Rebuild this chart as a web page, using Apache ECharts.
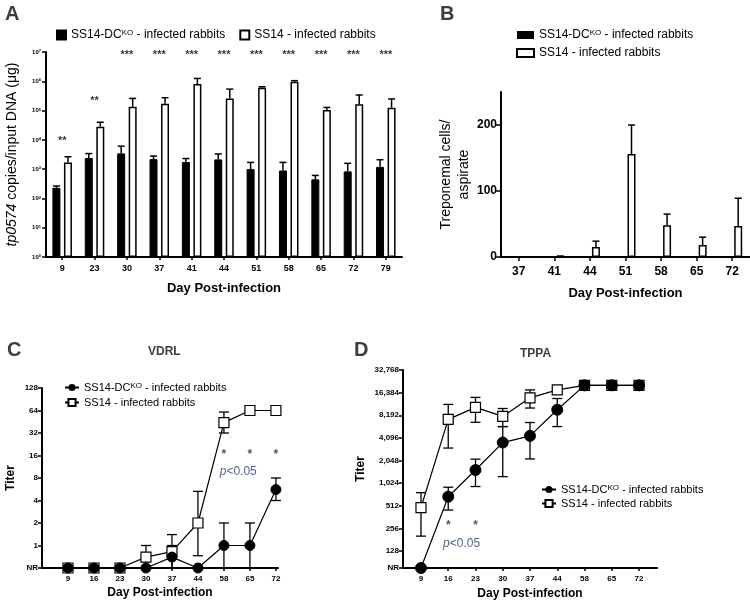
<!DOCTYPE html>
<html><head><meta charset="utf-8">
<script src="https://cdn.jsdelivr.net/npm/echarts@6/dist/echarts.min.js"></script>
<style>html,body{margin:0;padding:0;background:#fff}#c{width:750px;height:601px}</style>
</head><body><div id="c"></div>
<script>
// ---------- Panel A: tp0574 copies / input DNA ----------
const daysA = ['9','23','30','37','41','44','51','58','65','72','79'];
const koA    = [230, 2400, 3450, 2200, 1750, 2150, 1000, 900, 450, 840, 1200];
const koAErr = [265, 3400, 6100, 2800, 2300, 3300, 1700, 1700, 610, 1580, 2100];
const wtA    = [1700, 28000, 135000, 170000, 800000, 260000, 600000, 960000, 105000, 166000, 125000];
const wtAErr = [2650, 40000, 260000, 275000, 1250000, 540000, 650000, 1050000, 128000, 340000, 250000];
const sigA    = ['**','**','***','***','***','***','***','***','***','***','***'];
const sigALvl = [12000, 270000, 1e7, 1e7, 1e7, 1e7, 1e7, 1e7, 1e7, 1e7, 1e7];
const ticksA = [1, 10, 100, 1000, 1e4, 1e5, 1e6, 1e7];

// ---------- Panel B: treponemal cells / aspirate ----------
const daysB = ['37','41','44','51','58','65','72'];
const koB    = [0, 0, 0, 0, 0, 0, 0];
const wtB    = [0, 1, 15, 156, 48, 18, 47];
const wtBErr = [0, 1.5, 24, 200, 65, 30, 89];
const ticksB = [0, 100, 200];

// ---------- Panel C: VDRL titers (0 = NR) ----------
const daysC = ['9','16','23','30','37','44','58','65','72'];
const koC   = [0, 0, 0, 0, 0.7, 0, 1, 1, 5.6];
const koCLo = [0, 0, 0, 0, 0, 0, 0, 0, 4];
const koCHi = [0, 0, 0, 0, 1, 0, 2, 2, 8];
const wtC   = [0, 0, 0, 0.7, 0.83, 2, 44, 64, 64];
const wtCLo = [0, 0, 0, 0, 0, 0.73, 32, 64, 64];
const wtCHi = [0, 0, 0, 1, 1.4, 5.3, 61, 64, 64];
const sigC  = [['*', 6, 18], ['*', 7, 18], ['*', 8, 18]];
const ticksC = [0, 1, 2, 4, 8, 16, 32, 64, 128];

// ---------- Panel D: TPPA titers (0 = NR) ----------
const daysD = ['9','16','23','30','37','44','58','65','72'];
const koD   = [0, 676, 1530, 3550, 4360, 9700, 20480, 20480, 20480];
const koDLo = [0, 449, 923, 1250, 2150, 5790, 20480, 20480, 20480];
const koDHi = [0, 904, 2135, 5790, 6560, 13680, 20480, 20480, 20480];
const wtD   = [485, 7230, 10440, 7910, 13970, 17800, 20480, 20480, 20480];
const wtDLo = [202, 3000, 6600, 5790, 10220, 17800, 20480, 20480, 20480];
const wtDHi = [765, 11420, 14160, 10080, 17800, 17800, 20480, 20480, 20480];
const sigD  = [['*', 1, 302], ['*', 2, 302]];
const ticksD = [0, 128, 256, 512, 1024, 2048, 4096, 8192, 16384, 32768];

const FONT = '"Liberation Sans", Arial, sans-serif';
const NR_C = -1, NR_D = 6.25;
const lvC = t => t === 0 ? NR_C : Math.log2(t);
const lvD = t => t === 0 ? NR_D : Math.log2(t);

function errUp(offset) {
  return function (params, api) {
    const x = api.value(0);
    const p0 = api.coord([x, api.value(1)]);
    const p1 = api.coord([x, api.value(2)]);
    if (api.value(2) <= api.value(1)) return null;
    const cx = p0[0] + offset;
    return {type: 'group', children: [
      {type: 'line', shape: {x1: cx, y1: p0[1], x2: cx, y2: p1[1]}, style: {stroke: '#000', lineWidth: 1.5}},
      {type: 'line', shape: {x1: cx - 3.5, y1: p1[1], x2: cx + 3.5, y2: p1[1]}, style: {stroke: '#000', lineWidth: 1.5}}
    ]};
  };
}
function errBoth(params, api) {
  const x = api.value(0);
  const lo = api.coord([x, api.value(1)]);
  const hi = api.coord([x, api.value(2)]);
  if (Math.abs(lo[1] - hi[1]) < 0.5) return null;
  const cx = lo[0], w = 5;
  return {type: 'group', children: [
    {type: 'line', shape: {x1: cx, y1: lo[1], x2: cx, y2: hi[1]}, style: {stroke: '#000', lineWidth: 1.3}},
    {type: 'line', shape: {x1: cx - w, y1: lo[1], x2: cx + w, y2: lo[1]}, style: {stroke: '#000', lineWidth: 1.3}},
    {type: 'line', shape: {x1: cx - w, y1: hi[1], x2: cx + w, y2: hi[1]}, style: {stroke: '#000', lineWidth: 1.3}}
  ]};
}

const legendFmt = name => name.endsWith('ko') ? 'SS14-DC{sup|KO} - infected rabbits' : 'SS14 - infected rabbits';
const legendRich = fs => ({sup: {fontSize: Math.round(fs * 0.7), verticalAlign: 'top', fontFamily: FONT, color: '#000'}});

const axisLineStyle = {onZero: false, lineStyle: {color: '#000', width: 2}};

const chart = echarts.init(document.getElementById('c'));
const option = {
  animation: false,
  textStyle: {fontFamily: FONT, color: '#000'},
  title: [
    {text: 'A', left: 0, top: -1, textStyle: {fontSize: 20, fontWeight: 'bold', fontFamily: FONT}},
    {text: 'B', left: 435, top: -1, textStyle: {fontSize: 20, fontWeight: 'bold', fontFamily: FONT}},
    {text: 'C', left: 2, top: 335, textStyle: {fontSize: 20, fontWeight: 'bold', fontFamily: FONT}},
    {text: 'D', left: 349, top: 335, textStyle: {fontSize: 20, fontWeight: 'bold', fontFamily: FONT}},
    {text: 'VDRL', left: 143, top: 341, textStyle: {fontSize: 12, fontWeight: 'bold', fontFamily: FONT}},
    {text: 'TPPA', left: 515, top: 343, textStyle: {fontSize: 12, fontWeight: 'bold', fontFamily: FONT}}
  ],
  legend: [
    {data: ['A_ko', 'A_wt'], left: 51, top: 24, orient: 'horizontal', icon: 'rect', itemWidth: 9, itemHeight: 9, itemGap: 14,
     formatter: legendFmt, textStyle: {fontSize: 12, fontFamily: FONT, color: '#000', rich: legendRich(12)}, selectedMode: false},
    {data: ['B_ko', 'B_wt'], left: 511, top: 24, orient: 'vertical', icon: 'rect', itemWidth: 17, itemHeight: 8, itemGap: 6,
     formatter: legendFmt, textStyle: {fontSize: 12, fontFamily: FONT, color: '#000', rich: legendRich(12)}, selectedMode: false},
    {data: ['C_ko', 'C_wt'], left: 59, top: 377, orient: 'vertical', itemWidth: 14, itemHeight: 9, itemGap: 4,
     formatter: legendFmt, textStyle: {fontSize: 11, fontFamily: FONT, color: '#000', rich: legendRich(11)}, selectedMode: false},
    {data: ['D_ko', 'D_wt'], left: 536, top: 479, orient: 'vertical', itemWidth: 14, itemHeight: 9, itemGap: 3,
     formatter: legendFmt, textStyle: {fontSize: 11, fontFamily: FONT, color: '#000', rich: legendRich(11)}, selectedMode: false}
  ],
  grid: [
    {left: 46, top: 52, width: 356, height: 205},
    {left: 501, top: 92, width: 250, height: 165},
    {left: 42, top: 388, width: 236, height: 180},
    {left: 403, top: 370, width: 254, height: 198}
  ],
  xAxis: [
    {gridIndex: 0, type: 'category', data: daysA, axisLine: axisLineStyle,
     axisTick: {show: true, alignWithLabel: true, length: 3, lineStyle: {color: '#000', width: 1.5}},
     axisLabel: {fontSize: 9, fontWeight: 'bold', color: '#000', margin: 7},
     name: 'Day Post-infection', nameLocation: 'middle', nameGap: 25,
     nameTextStyle: {fontSize: 13, fontWeight: 'bold', color: '#000'}},
    {gridIndex: 1, type: 'category', data: daysB, axisLine: axisLineStyle,
     axisTick: {show: true, alignWithLabel: true, length: 4, lineStyle: {color: '#000', width: 1.5}},
     axisLabel: {fontSize: 12, fontWeight: 'bold', color: '#000', margin: 9},
     name: 'Day Post-infection', nameLocation: 'middle', nameGap: 30,
     nameTextStyle: {fontSize: 13, fontWeight: 'bold', color: '#000'}},
    {gridIndex: 2, type: 'value', min: -1, max: 8.08, axisLine: axisLineStyle,
     axisTick: {show: true, length: 3, customValues: [0,1,2,3,4,5,6,7,8], lineStyle: {color: '#000', width: 1.5}},
     axisLabel: {fontSize: 8, fontWeight: 'bold', color: '#000', margin: 7, customValues: [0,1,2,3,4,5,6,7,8],
                 formatter: v => daysC[Math.round(v)]},
     splitLine: {show: false},
     name: 'Day Post-infection', nameLocation: 'middle', nameGap: 19,
     nameTextStyle: {fontSize: 12, fontWeight: 'bold', color: '#000'}},
    {gridIndex: 3, type: 'value', min: -0.66, max: 8.66, axisLine: axisLineStyle,
     axisTick: {show: true, length: 3, customValues: [0,1,2,3,4,5,6,7,8], lineStyle: {color: '#000', width: 1.5}},
     axisLabel: {fontSize: 8, fontWeight: 'bold', color: '#000', margin: 7, customValues: [0,1,2,3,4,5,6,7,8],
                 formatter: v => daysD[Math.round(v)]},
     splitLine: {show: false},
     name: 'Day Post-infection', nameLocation: 'middle', nameGap: 20,
     nameTextStyle: {fontSize: 12, fontWeight: 'bold', color: '#000'}}
  ],
  yAxis: [
    {gridIndex: 0, type: 'log', logBase: 10, min: 1, max: 1e7, axisLine: {show: true, onZero: false, lineStyle: {color: '#000', width: 2}},
     axisTick: {show: true, length: 4, customValues: ticksA, lineStyle: {color: '#000', width: 1.5}},
     axisLabel: {customValues: ticksA, margin: 5, formatter: v => '{b|10}{s|' + Math.round(Math.log10(v)) + '}',
                 rich: {b: {fontSize: 6, fontWeight: 'bold', color: '#000', fontFamily: FONT},
                        s: {fontSize: 4, fontWeight: 'bold', color: '#000', verticalAlign: 'top', fontFamily: FONT}}},
     splitLine: {show: false},
     name: '{i|tp0574} copies/input DNA (μg)', nameLocation: 'middle', nameGap: 27,
     nameTextStyle: {fontSize: 14, color: '#000', rich: {i: {fontStyle: 'italic', fontSize: 14, color: '#000', fontFamily: FONT}}}},
    {gridIndex: 1, type: 'value', min: 0, max: 250, axisLine: {show: true, onZero: false, lineStyle: {color: '#000', width: 2}},
     axisTick: {show: true, length: 5, customValues: ticksB, lineStyle: {color: '#000', width: 1.5}},
     axisLabel: {customValues: ticksB, fontSize: 12, fontWeight: 'bold', color: '#000', margin: 4},
     splitLine: {show: false},
     name: 'Treponemal cells/\naspirate', nameLocation: 'middle', nameGap: 28,
     nameTextStyle: {fontSize: 14, color: '#000', lineHeight: 18}},
    {gridIndex: 2, type: 'value', min: -1, max: 7, axisLine: {show: true, onZero: false, lineStyle: {color: '#000', width: 2}},
     axisTick: {show: true, length: 4, customValues: ticksC.map(lvC), lineStyle: {color: '#000', width: 1.5}},
     axisLabel: {customValues: ticksC.map(lvC), fontSize: 8, fontWeight: 'bold', color: '#000', margin: 4,
                 formatter: v => v === NR_C ? 'NR' : String(Math.round(Math.pow(2, v)))},
     splitLine: {show: false},
     name: 'Titer', nameLocation: 'middle', nameGap: 25,
     nameTextStyle: {fontSize: 12, fontWeight: 'bold', color: '#000'}},
    {gridIndex: 3, type: 'value', min: NR_D, max: 15, axisLine: {show: true, onZero: false, lineStyle: {color: '#000', width: 2}},
     axisTick: {show: true, length: 4, customValues: ticksD.map(lvD), lineStyle: {color: '#000', width: 1.5}},
     axisLabel: {customValues: ticksD.map(lvD), fontSize: 8, fontWeight: 'bold', color: '#000', margin: 4,
                 formatter: v => v === NR_D ? 'NR' : Math.round(Math.pow(2, v)).toLocaleString('en-US')},
     splitLine: {show: false},
     name: 'Titer', nameLocation: 'middle', nameGap: 36,
     nameTextStyle: {fontSize: 12, fontWeight: 'bold', color: '#000'}}
  ],
  series: [
    // Panel A
    {name: 'A_ko', type: 'bar', xAxisIndex: 0, yAxisIndex: 0, data: koA, barWidth: 8, barGap: '44%',
     itemStyle: {color: '#000', borderColor: '#000', borderWidth: 1}},
    {name: 'A_wt', type: 'bar', xAxisIndex: 0, yAxisIndex: 0, data: wtA, barWidth: 8,
     itemStyle: {color: '#fff', borderColor: '#000', borderWidth: 1.5}},
    {type: 'custom', xAxisIndex: 0, yAxisIndex: 0, renderItem: errUp(-5.75), data: koA.map((v, i) => [i, v, koAErr[i]]), z: 3},
    {type: 'custom', xAxisIndex: 0, yAxisIndex: 0, renderItem: errUp(5.75), data: wtA.map((v, i) => [i, v, wtAErr[i]]), z: 3},
    {type: 'scatter', xAxisIndex: 0, yAxisIndex: 0, symbolSize: 0, silent: true,
     data: sigA.map((s, i) => ({value: [i, sigALvl[i]], label: {formatter: s}})),
     label: {show: true, position: 'inside', fontSize: 11, fontWeight: 'bold', color: '#000', offset: [0, 3]}},
    // Panel B
    {name: 'B_ko', type: 'bar', xAxisIndex: 1, yAxisIndex: 1, data: koB, barWidth: 8, barGap: '50%',
     itemStyle: {color: '#000'}},
    {name: 'B_wt', type: 'bar', xAxisIndex: 1, yAxisIndex: 1, data: wtB, barWidth: 8,
     itemStyle: {color: '#fff', borderColor: '#000', borderWidth: 1.5}},
    {type: 'custom', xAxisIndex: 1, yAxisIndex: 1, renderItem: errUp(6), data: wtB.map((v, i) => [i, v, wtBErr[i]]), z: 3},
    // Panel C
    {type: 'custom', xAxisIndex: 2, yAxisIndex: 2, renderItem: errBoth, data: wtC.map((v, i) => [i, lvC(wtCLo[i]), lvC(wtCHi[i])]), z: 1},
    {type: 'custom', xAxisIndex: 2, yAxisIndex: 2, renderItem: errBoth, data: koC.map((v, i) => [i, lvC(koCLo[i]), lvC(koCHi[i])]), z: 1},
    {name: 'C_wt', type: 'line', xAxisIndex: 2, yAxisIndex: 2, data: wtC.map((v, i) => [i, lvC(v)]),
     symbol: 'rect', symbolSize: 10, lineStyle: {color: '#000', width: 1.2},
     itemStyle: {color: '#fff', borderColor: '#000', borderWidth: 1.2}, z: 2},
    {name: 'C_ko', type: 'line', xAxisIndex: 2, yAxisIndex: 2, data: koC.map((v, i) => [i, lvC(v)]),
     symbol: 'circle', symbolSize: 10, lineStyle: {color: '#000', width: 1.2},
     itemStyle: {color: '#000', borderColor: '#000'}, z: 3},
    {type: 'scatter', xAxisIndex: 2, yAxisIndex: 2, symbolSize: 0, silent: true,
     data: sigC.map(s => ({value: [s[1], lvC(s[2])], label: {formatter: s[0]}})),
     label: {show: true, position: 'inside', fontSize: 12, fontWeight: 'bold', color: '#1a2a4a', offset: [0, 3]}},
    {type: 'scatter', xAxisIndex: 2, yAxisIndex: 2, symbolSize: 0, silent: true,
     data: [{value: [6.55, lvC(9.8)]}],
     label: {show: true, position: 'inside', formatter: '{i|p}<0.05', fontSize: 12, color: '#1f3a6e',
             rich: {i: {fontStyle: 'italic', fontSize: 12, color: '#1f3a6e', fontFamily: FONT}}}},
    // Panel D
    {type: 'custom', xAxisIndex: 3, yAxisIndex: 3, renderItem: errBoth, data: wtD.map((v, i) => [i, lvD(wtDLo[i]), lvD(wtDHi[i])]), z: 1},
    {type: 'custom', xAxisIndex: 3, yAxisIndex: 3, renderItem: errBoth, data: koD.map((v, i) => [i, lvD(koDLo[i]), lvD(koDHi[i])]), z: 1},
    {name: 'D_wt', type: 'line', xAxisIndex: 3, yAxisIndex: 3, data: wtD.map((v, i) => [i, lvD(v)]),
     symbol: 'rect', symbolSize: 10, lineStyle: {color: '#000', width: 1.2},
     itemStyle: {color: '#fff', borderColor: '#000', borderWidth: 1.2}, z: 2},
    {name: 'D_ko', type: 'line', xAxisIndex: 3, yAxisIndex: 3, data: koD.map((v, i) => [i, lvD(v)]),
     symbol: 'circle', symbolSize: 11, lineStyle: {color: '#000', width: 1.2},
     itemStyle: {color: '#000', borderColor: '#000'}, z: 3},
    {type: 'scatter', xAxisIndex: 3, yAxisIndex: 3, symbolSize: 0, silent: true,
     data: sigD.map(s => ({value: [s[1], lvD(s[2])], label: {formatter: s[0]}})),
     label: {show: true, position: 'inside', fontSize: 12, fontWeight: 'bold', color: '#1a2a4a', offset: [0, 3]}},
    {type: 'scatter', xAxisIndex: 3, yAxisIndex: 3, symbolSize: 0, silent: true,
     data: [{value: [1.49, lvD(158)]}],
     label: {show: true, position: 'inside', formatter: '{i|p}<0.05', fontSize: 12, color: '#1f3a6e',
             rich: {i: {fontStyle: 'italic', fontSize: 12, color: '#1f3a6e', fontFamily: FONT}}}}
  ]
};
chart.setOption(option);
</script>
</body></html>
